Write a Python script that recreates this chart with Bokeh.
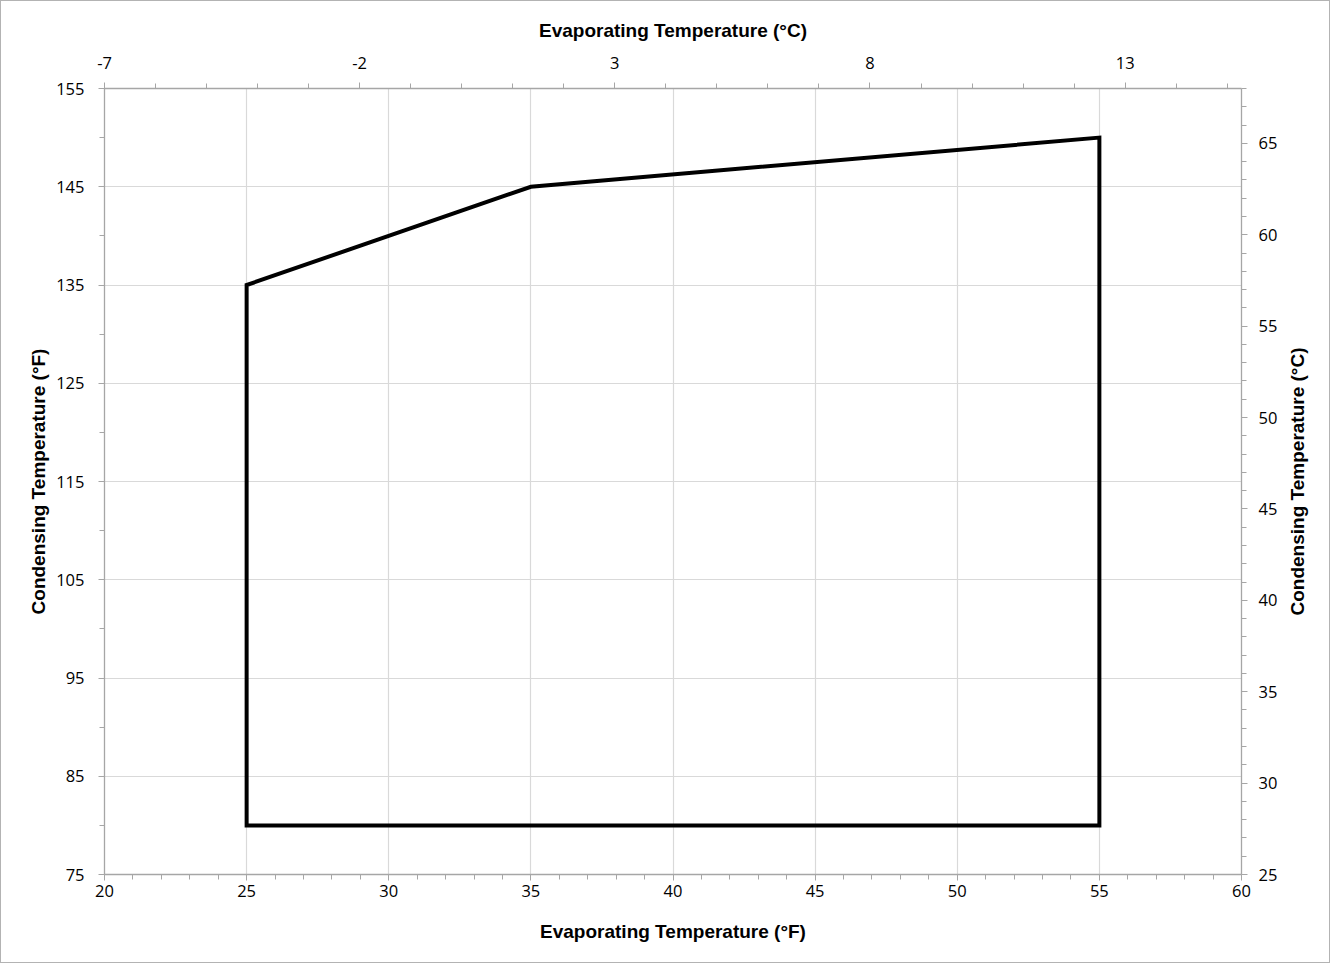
import math
from bokeh.plotting import figure
from bokeh.layouts import row
from bokeh.models import Range1d, LinearAxis, FixedTicker, Label
from bokeh.embed import file_html
from bokeh.resources import INLINE

# Envelope data (°F)
evap_f = [25, 25, 35, 55, 55]
cond_f = [80, 135, 145, 150, 80]

# Axis ticks
x_ticks_f = [20, 25, 30, 35, 40, 45, 50, 55, 60]
y_ticks_f = [75, 85, 95, 105, 115, 125, 135, 145, 155]
x_ticks_c = [-7, -2, 3, 8, 13]
y_ticks_c = [25, 30, 35, 40, 45, 50, 55, 60, 65]

AX = "#a6a6a6"
GRID = "#d9d9d9"
TICK_FONT = "Open Sans"
TITLE_FONT = "Liberation Sans"
FW, FH = 1137, 786
BL, BR, BT, BB = 103, 40, 87, 88
TITLE_W = 48
H = BT + FH + BB

p = figure(
    frame_width=FW, frame_height=FH,
    x_range=Range1d(20, 60), y_range=Range1d(75, 155),
    output_backend="svg", toolbar_location=None,
    x_axis_location=None, y_axis_location=None,
    min_border_left=BL, min_border_right=BR, min_border_top=BT, min_border_bottom=BB,
)
p.outline_line_color = None
p.background_fill_color = "white"
p.border_fill_color = "white"

p.extra_x_ranges = {"c": Range1d(-7, 15.28)}
p.extra_y_ranges = {"c": Range1d(25, 68)}


def style(ax, title, label_standoff, title_standoff):
    ax.axis_label = title
    ax.axis_label_text_font = TITLE_FONT
    ax.axis_label_text_font_style = "bold"
    ax.axis_label_text_font_size = "19px"
    ax.axis_label_text_color = "black"
    ax.axis_label_standoff = title_standoff
    ax.major_label_text_font = TICK_FONT
    ax.major_label_text_font_size = "16.5px"
    ax.major_label_text_color = "black"
    ax.major_label_standoff = label_standoff
    ax.axis_line_color = AX
    ax.axis_line_width = 1.3
    ax.major_tick_line_color = AX
    ax.minor_tick_line_color = AX
    ax.major_tick_in = 0
    ax.major_tick_out = 6
    ax.minor_tick_in = 0
    ax.minor_tick_out = 5


bottom = LinearAxis(ticker=FixedTicker(ticks=x_ticks_f, minor_ticks=list(range(20, 61))))
style(bottom, "Evaporating Temperature (°F)", 4, 21)
p.add_layout(bottom, "below")

left = LinearAxis(ticker=FixedTicker(ticks=y_ticks_f, minor_ticks=list(range(75, 156, 5))))
style(left, "Condensing Temperature (°F)", 14, 4)
p.add_layout(left, "left")

top = LinearAxis(x_range_name="c", ticker=FixedTicker(ticks=x_ticks_c, minor_ticks=list(range(-7, 16))))
style(top, "Evaporating Temperature (°C)", 14, 13)
top.major_label_overrides = {t: str(t) for t in x_ticks_c}
p.add_layout(top, "above")

right = LinearAxis(y_range_name="c", ticker=FixedTicker(ticks=y_ticks_c, minor_ticks=list(range(25, 69))))
style(right, None, 11, 0)
p.add_layout(right, "right")

p.xgrid.ticker = FixedTicker(ticks=x_ticks_f)
p.ygrid.ticker = FixedTicker(ticks=y_ticks_f)
p.xgrid.grid_line_color = GRID
p.ygrid.grid_line_color = GRID
p.xgrid.grid_line_width = 1.2
p.ygrid.grid_line_width = 1.2

p.patch(evap_f, cond_f, fill_color=None, line_color="black", line_width=4, line_join="miter")

# Narrow strip holding the right-hand axis title (reads bottom-to-top)
t = figure(
    width=TITLE_W, height=H, x_range=Range1d(0, 1), y_range=Range1d(0, 1),
    output_backend="svg", toolbar_location=None,
    x_axis_location=None, y_axis_location=None,
    min_border=0,
)
t.outline_line_color = None
t.grid.visible = False
t.background_fill_color = "white"
t.border_fill_color = "white"
t.add_layout(Label(
    x=16, y=FH / 2, x_units="screen", y_units="screen",
    text="Condensing Temperature (°C)", angle=math.pi / 2,
    text_align="center", text_baseline="middle",
    text_font=TITLE_FONT, text_font_style="bold", text_font_size="19px",
    text_color="black",
))

layout = row(p, t, styles={"border": "1px solid #b3b3b3", "background": "white"})

open("out.html", "w").write(file_html(layout, INLINE))
